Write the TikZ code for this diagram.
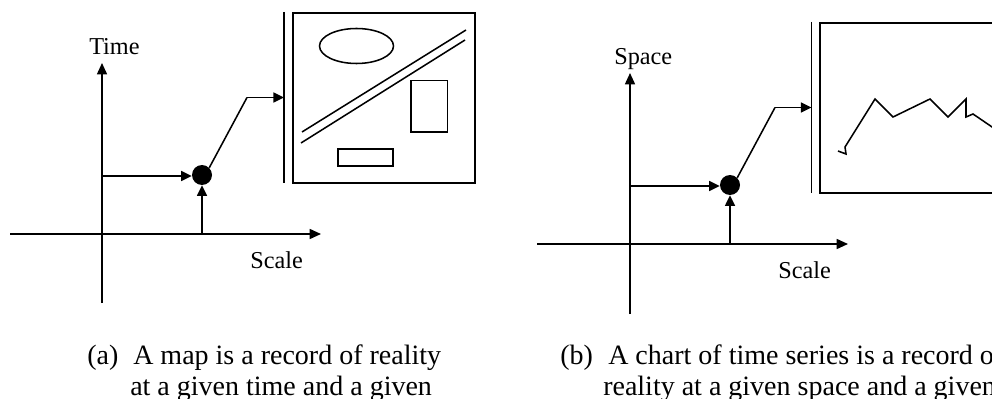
\documentclass[tikz,border=0pt]{standalone}
\usepackage{fontspec}
\setmainfont{Liberation Serif}
\usetikzlibrary{arrows.meta,positioning}
\tikzset{
 axisline/.style={-{Triangle[length=8.5pt,width=7.5pt]}, line width=1.15pt, draw=black},
 arrow/.style={-{Triangle[length=8pt,width=7.5pt]}, line width=1.15pt, draw=black},
 plain/.style={line width=1.15pt, draw=black},
 dot/.style={circle, fill=black, inner sep=0pt, minimum size=15pt},
 axislabel/.style={font=\fontsize{18.2}{22}\selectfont, inner sep=0pt, anchor=base west},
 captext/.style={font=\fontsize{21}{24}\selectfont, inner sep=0pt, anchor=base west}
}
\begin{document}
\begin{tikzpicture}[x=0.75pt,y=-0.75pt]
\useasboundingbox (0,0) rectangle (992,399);
\clip (0,0) rectangle (992,399);
% left panel
\coordinate (xa0) at (10,234); \coordinate (xa1) at (321,234);
\coordinate (ya0) at (102,303); \coordinate (ya1) at (102,63);
\coordinate (ya2) at (102,176); \coordinate (xa2) at (202,234);
\node[dot] (dota) at (202,175) {};
\coordinate (benda) at (247,97.5);
\coordinate (bara0) at (284,12); \coordinate (bara1) at (284,183);
\coordinate (bara2) at (284,97.5);
\draw[axisline] (xa0) -- (xa1);
\draw[axisline] (ya0) -- (ya1);
\draw[arrow] (ya2) -- (dota.west |- ya2);
\draw[arrow] (xa2) -- (dota.south);
\draw[plain] (dota.north east) -- (benda);
\draw[arrow] (benda) -- (bara2);
\draw[line width=1.3pt] (bara0) -- (bara1);
\draw[plain] (293,13) rectangle (475,183);
\draw[plain] (356.5,46) ellipse (37 and 17.5);
\draw[plain] (302,132) -- (466,30);
\draw[plain] (301,143) -- (465,40);
\draw[plain] (411,80.5) rectangle (447.5,132);
\draw[plain] (338,149) rectangle (393,166);
\node[axislabel] (timelab) at (89,55) {Time};
\node[axislabel] (scalea) at (250,268) {Scale};
\node[captext] (capa1) at (87,364) {(a)};
\node[captext] (capa2) at (133,364) {A map is a record of reality};
\node[captext] (capa3) at (130,395) {at a given time and a given};
% right panel
\coordinate (xb0) at (537,244); \coordinate (xb1) at (848,244);
\coordinate (yb0) at (630,314); \coordinate (yb1) at (630,73);
\coordinate (yb2) at (630,186); \coordinate (xb2) at (730,244);
\node[dot] (dotb) at (730,185) {};
\coordinate (bendb) at (775,107.5);
\coordinate (barb0) at (811.5,22); \coordinate (barb1) at (811.5,193);
\coordinate (barb2) at (811.5,107.5);
\draw[axisline] (xb0) -- (xb1);
\draw[axisline] (yb0) -- (yb1);
\draw[arrow] (yb2) -- (dotb.west |- yb2);
\draw[arrow] (xb2) -- (dotb.south);
\draw[plain] (dotb.north east) -- (bendb);
\draw[arrow] (bendb) -- (barb2);
\draw[line width=1.3pt] (barb0) -- (barb1);
\draw[plain] (820,23) rectangle (1005,193);
\draw[plain] (838,151) -- (846,154) -- (845,147) -- (875,99) -- (893,117) -- (930,99) -- (948,117) -- (966,99) -- (966,117) -- (973,114) -- (995,129);
\node[axislabel] (spacelab) at (614,65) {Space};
\node[axislabel] (scaleb) at (778,278) {Scale};
\node[captext] (capb1) at (560,364) {(b)};
\node[captext] (capb2) at (608,364) {A chart of time series is a record of};
\node[captext] (capb3) at (603,395) {reality at a given space and a given};
\end{tikzpicture}
\end{document}
